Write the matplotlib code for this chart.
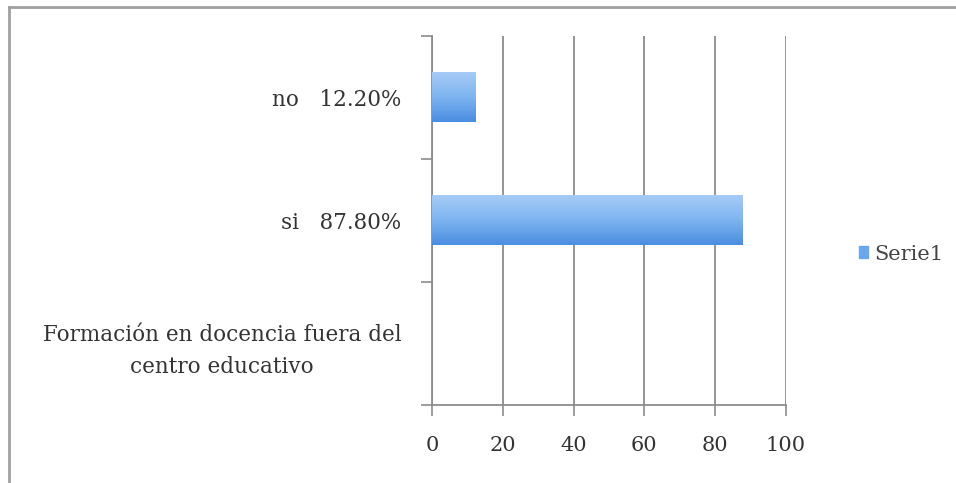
import numpy as np
import matplotlib.pyplot as plt
from matplotlib.lines import Line2D
from matplotlib.patches import Patch
from matplotlib.colors import LinearSegmentedColormap

# data
categories = ['Formación en docencia fuera del\ncentro educativo', 'si   87.80%', 'no   12.20%']
values = [0, 87.8, 12.2]
x_ticks = [0, 20, 40, 60, 80, 100]
series_name = 'Serie1'

bar_color = '#6aa6ea'
grid_color = '#8c8c8c'
text_color = '#333333'
font = 'DejaVu Serif'
bar_cmap = LinearSegmentedColormap.from_list('bar', ['#4a8ee0', '#7db4f0', '#a6cbf6'])

fig = plt.figure(figsize=(9.56, 4.83), dpi=100)
ax = fig.add_axes([432 / 956, 1 - 405 / 483, (786 - 432) / 956, (405 - 36) / 483])

pos = list(range(len(categories)))
bars = ax.barh(pos, values, height=0.4, color='none', edgecolor='none', zorder=3)

# vertical gradient fill like the original spreadsheet chart
grad = np.linspace(0, 1, 64).reshape(-1, 1)
for b in bars:
    if b.get_width() <= 0:
        continue
    x0, y0 = b.get_x(), b.get_y()
    ax.imshow(grad, cmap=bar_cmap, aspect='auto', origin='lower', zorder=3,
              extent=(x0, x0 + b.get_width(), y0, y0 + b.get_height()))

ax.set_xlim(0, 100)
ax.set_ylim(-0.5, len(categories) - 0.5)
ax.set_xticks(x_ticks)
ax.set_xticklabels([str(t) for t in x_ticks], family=font, fontsize=15, color=text_color)

# category boundaries as tick marks on the y axis
ax.set_yticks([p - 0.5 for p in pos] + [pos[-1] + 0.5])
ax.set_yticklabels([])
ax.set_yticks(pos, minor=True)
ax.set_yticklabels(categories, minor=True, family=font, fontsize=15.5,
                   color=text_color, ha='right')
ax.tick_params(axis='y', which='minor', length=0, pad=22)
ax.tick_params(axis='y', which='major', length=8, color=grid_color, width=1.2)
ax.tick_params(axis='x', length=8, color=grid_color, width=1.2, pad=14)
for lbl in ax.get_yticklabels(minor=True):
    lbl.set_multialignment('center')
    lbl.set_linespacing(1.6)

ax.grid(axis='x', color=grid_color, linewidth=1.3, zorder=0)
for side in ['top', 'right']:
    ax.spines[side].set_visible(False)
for side in ['left', 'bottom']:
    ax.spines[side].set_color(grid_color)
    ax.spines[side].set_linewidth(1.3)

handles = [Patch(facecolor=bar_color, edgecolor=bar_color)]
fig.legend(handles, [series_name], loc='center left', bbox_to_anchor=(840 / 956, 1 - 254 / 483),
           frameon=False, handlelength=0.45, handleheight=0.45, handletextpad=0.3,
           prop={'family': font, 'size': 15},
           labelcolor='#444444')

# outer chart frame (top and left edges visible in the reference)
fig.add_artist(Line2D([9 / 956, 1], [1 - 7 / 483, 1 - 7 / 483], color='#a0a0a0', linewidth=2,
                      transform=fig.transFigure))
fig.add_artist(Line2D([9 / 956, 9 / 956], [0, 1 - 7 / 483], color='#a0a0a0', linewidth=2,
                      transform=fig.transFigure))

fig.savefig('out.png', dpi=100)
